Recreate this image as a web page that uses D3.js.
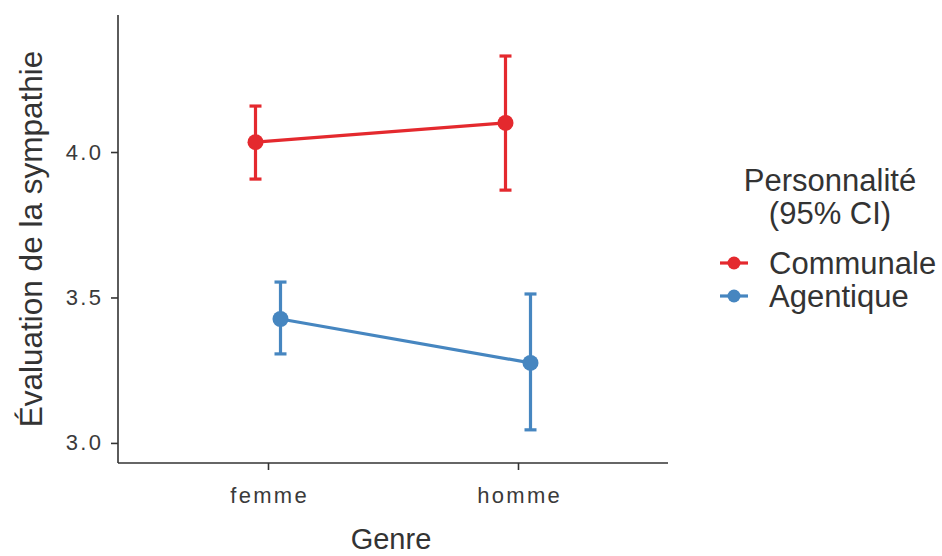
<!DOCTYPE html>
<html><head><meta charset="utf-8">
<script src="https://cdn.jsdelivr.net/npm/d3@7"></script>
<style>body{margin:0;background:#fff}svg{display:block}text{font-family:"Liberation Sans",Arial,sans-serif}</style>
</head><body>
<svg id="c" width="942" height="556"></svg>
<script>
const categories = ["femme", "homme"];
const seriesNames = ["Communale", "Agentique"];
const seriesColors = ["#e4292e", "#4686c0"];
const communaleMean = [4.034, 4.10];
const communaleLow = [3.907, 3.869];
const communaleHigh = [4.158, 4.33];
const agentiqueMean = [3.426, 3.275];
const agentiqueLow = [3.306, 3.045];
const agentiqueHigh = [3.553, 3.512];
const yTicks = [3.0, 3.5, 4.0];

const series = [
  {name: seriesNames[0], color: seriesColors[0], mean: communaleMean, low: communaleLow, high: communaleHigh},
  {name: seriesNames[1], color: seriesColors[1], mean: agentiqueMean, low: agentiqueLow, high: agentiqueHigh}
];

const svg = d3.select("#c");
const L = 118, R = 668, T = 15, B = 463;
const LS = 2.3;

const x = d3.scalePoint().domain(categories).range([L, R]).padding(0.6);
const y = d3.scaleLinear().domain([2.931, 4.471]).range([B, T]);
const dodge = d3.scalePoint().domain(seriesNames).range([-12.5, 12.5]);

// axes
const gx = svg.append("g").attr("transform", `translate(0,${B})`)
  .call(d3.axisBottom(x).tickSize(7).tickPadding(17).tickSizeOuter(0));
const gy = svg.append("g").attr("transform", `translate(${L},0)`)
  .call(d3.axisLeft(y).tickValues(yTicks).tickFormat(d3.format(".1f")).tickSize(7).tickPadding(10).tickSizeOuter(0));
[gx, gy].forEach(g => {
  g.select(".domain").attr("stroke", "#333").attr("stroke-width", 1.6);
  g.selectAll(".tick line").attr("stroke", "#333").attr("stroke-width", 1.6);
  g.selectAll(".tick text").attr("fill", "#3a3a3a").attr("font-size", 22)
    .attr("letter-spacing", LS).attr("font-family", "Liberation Sans, Arial, sans-serif");
});
gx.selectAll(".tick text").attr("dx", LS / 2);
gy.selectAll(".tick text").attr("dx", LS);
gx.select(".domain").attr("d", `M${L},0H${R}`);
gy.select(".domain").attr("d", `M0,${B}V${T}`);

// series
series.forEach(s => {
  const g = svg.append("g");
  const px = i => x(categories[i]) + dodge(s.name);
  g.append("path")
    .attr("d", d3.line().x((d, i) => px(i)).y(d => y(d))(s.mean))
    .attr("fill", "none").attr("stroke", s.color).attr("stroke-width", 3.2);
  s.mean.forEach((m, i) => {
    const cx = px(i);
    g.append("line").attr("x1", cx).attr("x2", cx).attr("y1", y(s.low[i])).attr("y2", y(s.high[i]))
      .attr("stroke", s.color).attr("stroke-width", 3.2);
    [s.low[i], s.high[i]].forEach(v => {
      g.append("line").attr("x1", cx - 6).attr("x2", cx + 6).attr("y1", y(v)).attr("y2", y(v))
        .attr("stroke", s.color).attr("stroke-width", 3.2);
    });
    g.append("circle").attr("cx", cx).attr("cy", y(m)).attr("r", 8).attr("fill", s.color);
  });
});

// axis titles
svg.append("text").attr("x", (L + R) / 2 - 2).attr("y", 549).attr("text-anchor", "middle")
  .attr("font-size", 29).attr("fill", "#333").text("Genre");
svg.append("text").attr("transform", `translate(42,${(T + B) / 2}) rotate(-90)`).attr("text-anchor", "middle")
  .attr("font-size", 31.5).attr("fill", "#333").text("Évaluation de la sympathie");

// legend
const lg = svg.append("g");
lg.append("text").attr("x", 830).attr("y", 191).attr("text-anchor", "middle").attr("font-size", 31).attr("fill", "#333").text("Personnalité");
lg.append("text").attr("x", 830).attr("y", 224).attr("text-anchor", "middle").attr("font-size", 31).attr("fill", "#333").text("(95% CI)");
series.forEach((s, i) => {
  const cy = 263 + i * 33;
  lg.append("line").attr("x1", 720).attr("x2", 748).attr("y1", cy).attr("y2", cy).attr("stroke", s.color).attr("stroke-width", 3.2);
  lg.append("circle").attr("cx", 734).attr("cy", cy).attr("r", 6.5).attr("fill", s.color);
  lg.append("text").attr("x", 769).attr("y", cy + 11).attr("font-size", 31).attr("fill", "#333").text(s.name);
});
</script>
</body></html>
